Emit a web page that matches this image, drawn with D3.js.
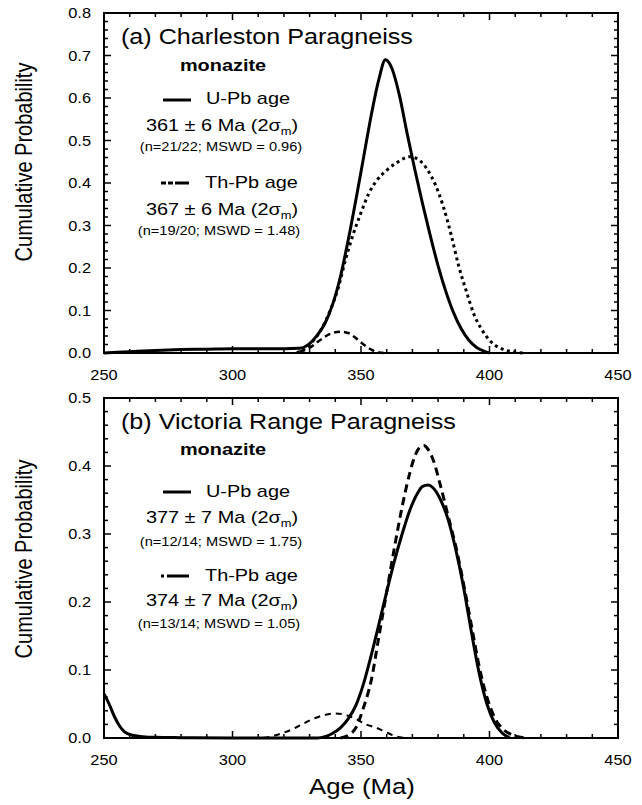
<!DOCTYPE html>
<html><head><meta charset="utf-8">
<script src="https://cdn.jsdelivr.net/npm/d3@7"></script>
<style>
html,body{margin:0;padding:0;background:#fff;}
svg{display:block;}
text{font-family:"Liberation Sans",Arial,Helvetica,sans-serif;fill:#000;}
</style>
</head><body>
<svg id="c" width="642" height="805"></svg>
<script>
// ---------- data ----------
const xMajorTicks = [250, 300, 350, 400, 450];
const xTickLabels = ["250", "300", "350", "400", "450"];
const yMajorTicksA = [0, 0.1, 0.2, 0.3, 0.4, 0.5, 0.6, 0.7, 0.8];
const yTickLabelsA = ["0.0", "0.1", "0.2", "0.3", "0.4", "0.5", "0.6", "0.7", "0.8"];
const yMajorTicksB = [0, 0.1, 0.2, 0.3, 0.4, 0.5];
const yTickLabelsB = ["0.0", "0.1", "0.2", "0.3", "0.4", "0.5"];

// Panel (a) Charleston Paragneiss
const ageA_U = [250,260,270,280,290,300,310,320,326,330,333,336,339,342,345,348,351,354,357,359.5,362,365,368,371,374,377,380,383,386,389,392,395,398,400];
const probA_U = [0,0.003,0.006,0.008,0.009,0.010,0.010,0.010,0.011,0.022,0.042,0.07,0.115,0.18,0.265,0.36,0.46,0.56,0.645,0.69,0.67,0.605,0.515,0.43,0.35,0.275,0.205,0.145,0.095,0.057,0.03,0.013,0.004,0];
const ageA_Th = [325,330,334,338,341,344,347,350,353,356,360,364,369,373,376,379,382,385,388,391,394,397,400,403,406,409,413];
const probA_Th = [0,0.02,0.05,0.10,0.15,0.22,0.28,0.33,0.375,0.405,0.43,0.448,0.462,0.452,0.43,0.395,0.345,0.28,0.205,0.145,0.09,0.055,0.03,0.015,0.007,0.003,0];
const ageA_X = [326,330,334,338,342,345,348,351,354,357,360];
const probA_X = [0.003,0.012,0.03,0.045,0.05,0.047,0.035,0.02,0.008,0.001,0];

// Panel (b) Victoria Range Paragneiss
const ageB_U = [250,252,254,256,258,261,265,270,280,300,320,333,336,339,342,345,348,351,354,357,360,363,366,369,372,374,376.2,378,381,384,387,390,393,396,399,402,405,408];
const probB_U = [0.065,0.05,0.032,0.018,0.009,0.004,0.002,0.001,0.0005,0,0,0,0.002,0.007,0.015,0.028,0.048,0.08,0.122,0.168,0.215,0.26,0.30,0.335,0.36,0.37,0.372,0.368,0.35,0.32,0.275,0.22,0.155,0.095,0.05,0.022,0.007,0];
const ageB_Th = [342,345,348,351,354,357,360,363,366,369,371,373,374.5,376,378,381,384,387,390,393,396,399,402,405,408,411,414];
const probB_Th = [0,0.004,0.015,0.045,0.085,0.15,0.215,0.28,0.34,0.39,0.415,0.428,0.43,0.425,0.41,0.37,0.325,0.28,0.225,0.165,0.105,0.06,0.03,0.014,0.006,0.002,0];
const ageB_X = [312,316,320,324,328,332,336,340,344,348,352,356,360,364,367];
const probB_X = [0,0.003,0.008,0.014,0.022,0.029,0.034,0.036,0.034,0.028,0.02,0.015,0.008,0.002,0];

const titles = ["(a) Charleston Paragneiss", "(b) Victoria Range Paragneiss"];
const mineral = "monazite";
const legendU = "U-Pb age";
const legendTh = "Th-Pb age";
const agesA = ["361 \u00B1 6 Ma (2\u03C3", "367 \u00B1 6 Ma (2\u03C3"];
const agesB = ["377 \u00B1 7 Ma (2\u03C3", "374 \u00B1 7 Ma (2\u03C3"];
const statsA = ["(n=21/22; MSWD = 0.96)", "(n=19/20; MSWD = 1.48)"];
const statsB = ["(n=12/14; MSWD = 1.75)", "(n=13/14; MSWD = 1.05)"];
const yTitle = "Cumulative Probability";
const xTitle = "Age (Ma)";

// ---------- drawing ----------
const svg = d3.select("#c");
const SX = 1.17;
const x = d3.scaleLinear().domain([250, 450]).range([104, 618]);

function txt(g, px, py, str, size, anchor, weight) {
  const t = g.append("text")
    .attr("transform", `translate(${px},${py}) scale(${SX},1)`)
    .attr("font-size", size)
    .attr("text-anchor", anchor || "start");
  if (weight) t.attr("font-weight", weight);
  if (str !== null) t.text(str);
  return t;
}
function ageText(g, px, py, str) {
  const t = txt(g, px, py, null, 17, "middle");
  t.append("tspan").text(str);
  t.append("tspan").attr("font-size", 11).attr("dy", 4).text("m");
  t.append("tspan").attr("dy", -4).text(")");
}

const panels = [
  {
    y: d3.scaleLinear().domain([0, 0.8]).range([353, 13]),
    yTicks: yMajorTicksA, yLabels: yTickLabelsA, yMax: 0.8,
    xLabelY: 380, title: titles[0], titleY: 44, yTitleC: 162,
    leg: {mon: 71, uLine: 100, uText: 104, a1: 131, s1: 151, tLine: 183, tText: 188, a2: 215, s2: 235},
    ages: agesA, stats: statsA, thDash: "5,2,5,2,14",
    curves: [
      {age: ageA_X, p: probA_X, w: 2.5, dash: "6,4"},
      {age: ageA_Th, p: probA_Th, w: 3, dash: "3,3.5"},
      {age: ageA_U, p: probA_U, w: 3, dash: null}
    ]
  },
  {
    y: d3.scaleLinear().domain([0, 0.5]).range([738, 398]),
    yTicks: yMajorTicksB, yLabels: yTickLabelsB, yMax: 0.5,
    xLabelY: 765, title: titles[1], titleY: 429, yTitleC: 559,
    leg: {mon: 455, uLine: 492, uText: 497, a1: 523, s1: 546, tLine: 576, tText: 581, a2: 606, s2: 628},
    ages: agesB, stats: statsB, thDash: "3,3,22",
    curves: [
      {age: ageB_X, p: probB_X, w: 2, dash: "6,5"},
      {age: ageB_Th, p: probB_Th, w: 3, dash: "8,5"},
      {age: ageB_U, p: probB_U, w: 3, dash: null}
    ]
  }
];

panels.forEach(P => {
  const g = svg.append("g");
  const y = P.y;
  const [y0, y1] = [y(0), y(P.yMax)];
  const xMinor = d3.range(250, 451, 10);
  const yMinor = d3.range(0, P.yMax + 1e-9, 0.02);

  // curves
  const line = d3.line().x(d => x(d[0])).y(d => y(d[1])).curve(d3.curveMonotoneX);
  P.curves.forEach(c => {
    const pts = c.age.map((a, i) => [a, c.p[i]]);
    const path = g.append("path").datum(pts).attr("d", line)
      .attr("fill", "none").attr("stroke", "#000").attr("stroke-width", c.w)
      .attr("stroke-linejoin", "round");
    if (c.dash) path.attr("stroke-dasharray", c.dash);
  });

  // ticks (inward on all four sides)
  const tk = g.append("g").attr("stroke", "#000").attr("stroke-width", 1.5);
  xMinor.forEach(v => {
    const L = (v % 50 === 0) ? 7 : 4;
    tk.append("line").attr("x1", x(v)).attr("x2", x(v)).attr("y1", y0).attr("y2", y0 - L);
    tk.append("line").attr("x1", x(v)).attr("x2", x(v)).attr("y1", y1).attr("y2", y1 + L);
  });
  yMinor.forEach((v, i) => {
    const L = (i % 5 === 0) ? 7 : 4;
    tk.append("line").attr("x1", x(250)).attr("x2", x(250) + L).attr("y1", y(v)).attr("y2", y(v));
    tk.append("line").attr("x1", x(450)).attr("x2", x(450) - L).attr("y1", y(v)).attr("y2", y(v));
  });

  // frame
  g.append("rect").attr("x", x(250)).attr("y", y1).attr("width", x(450) - x(250)).attr("height", y0 - y1)
    .attr("fill", "none").attr("stroke", "#000").attr("stroke-width", 2);

  // tick labels
  P.yTicks.forEach((v, i) => txt(g, 91, y(v) + 5, P.yLabels[i], 14, "end"));
  xMajorTicks.forEach((v, i) => txt(g, x(v), P.xLabelY, xTickLabels[i], 14, "middle"));

  // y title
  g.append("text")
    .attr("transform", `translate(32,${P.yTitleC}) rotate(-90) scale(1,${SX})`)
    .attr("text-anchor", "middle").attr("font-size", 20).text(yTitle);

  // title and legend
  txt(g, 121, P.titleY, P.title, 21.5, "start");
  const L = P.leg;
  txt(g, 223, L.mon, mineral, 17, "middle", "bold");
  g.append("line").attr("x1", 163).attr("x2", 191).attr("y1", L.uLine).attr("y2", L.uLine)
    .attr("stroke", "#000").attr("stroke-width", 3);
  txt(g, 206, L.uText, legendU, 17, "start");
  ageText(g, 222, L.a1, P.ages[0]);
  txt(g, 221, L.s1, P.stats[0], 12.5, "middle");
  g.append("line").attr("x1", 161).attr("x2", 189).attr("y1", L.tLine).attr("y2", L.tLine)
    .attr("stroke", "#000").attr("stroke-width", 3).attr("stroke-dasharray", P.thDash);
  txt(g, 205, L.tText, legendTh, 17, "start");
  ageText(g, 222, L.a2, P.ages[1]);
  txt(g, 219, L.s2, P.stats[1], 12.5, "middle");
});

// x title
txt(svg, 362, 794, xTitle, 22, "middle");
</script>
</body></html>
